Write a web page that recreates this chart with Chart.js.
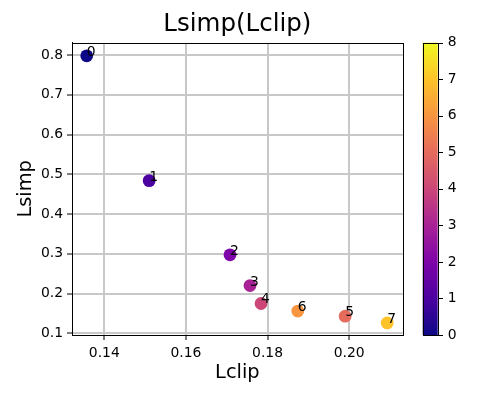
<!DOCTYPE html>
<html lang="en">
<head>
<meta charset="UTF-8">
<title>Lsimp(Lclip)</title>
<style>
body { margin:0; padding:0; background:#fff; }
canvas { display:block; }
</style>
</head>
<body>
<canvas id="chart" width="500" height="400"></canvas>
<script src="https://cdn.jsdelivr.net/npm/chart.js"></script>
<script>
// values, index = point label
const pointLabels = ['0', '1', '2', '3', '4', '5', '6', '7'];
const lclip = [0.1357, 0.1510, 0.1708, 0.1757, 0.1784, 0.1990, 0.1874, 0.2093];
const lsimp = [0.798, 0.484, 0.2975, 0.220, 0.175, 0.143, 0.156, 0.126];
const colorValues = [0, 1, 2, 3, 4, 5, 6, 7];
const xTicks = [0.14, 0.16, 0.18, 0.20];
const yTicks = [0.1, 0.2, 0.3, 0.4, 0.5, 0.6, 0.7, 0.8];
const cbarTicks = [0, 1, 2, 3, 4, 5, 6, 7, 8];

// plasma colormap stops
const plasma = ['#0d0887', '#4c02a1', '#7e03a8', '#a82296', '#cc4778', '#e56b5d', '#f89540', '#fdc328', '#f0f921'];
const cmin = 0, cmax = 8;

function hexToRgb(h) {
  return [parseInt(h.slice(1,3),16), parseInt(h.slice(3,5),16), parseInt(h.slice(5,7),16)];
}
function plasmaColor(v) {
  let t = (v - cmin) / (cmax - cmin);
  t = Math.max(0, Math.min(1, t));
  const pos = t * (plasma.length - 1);
  const i = Math.min(Math.floor(pos), plasma.length - 2);
  const f = pos - i;
  const a = hexToRgb(plasma[i]), b = hexToRgb(plasma[i+1]);
  const c = a.map((x, k) => Math.round(x + (b[k] - x) * f));
  return `rgb(${c[0]},${c[1]},${c[2]})`;
}

Chart.defaults.font.family = "'DejaVu Sans', sans-serif";
Chart.defaults.color = '#000';

const tickFont = { size: 13.9 };

const extras = {
  id: 'extras',
  afterDraw(chart) {
    const ctx = chart.ctx;
    const a = chart.chartArea;
    const xs = chart.scales.x, ys = chart.scales.y, cs = chart.scales.cbar;
    ctx.save();
    // frame
    ctx.strokeStyle = '#000';
    ctx.lineWidth = 1;
    ctx.strokeRect(Math.round(a.left) + 0.5, Math.round(a.top) + 0.5, Math.round(a.right - a.left), Math.round(a.bottom - a.top));
    // point annotations
    ctx.fillStyle = '#000';
    ctx.font = "13.9px 'DejaVu Sans', sans-serif";
    ctx.textAlign = 'left';
    ctx.textBaseline = 'alphabetic';
    pointLabels.forEach((lab, i) => {
      ctx.fillText(lab, xs.getPixelForValue(lclip[i]), ys.getPixelForValue(lsimp[i]));
    });
    // colorbar
    const x0 = a.right + 20, w = 15;
    const top = cs.getPixelForValue(cmax), bot = cs.getPixelForValue(cmin);
    const g = ctx.createLinearGradient(0, bot, 0, top);
    plasma.forEach((c, i) => g.addColorStop(i / (plasma.length - 1), c));
    ctx.fillStyle = g;
    ctx.fillRect(x0, top, w, bot - top);
    ctx.strokeStyle = '#000';
    ctx.lineWidth = 1;
    ctx.strokeRect(Math.round(x0) + 0.5, Math.round(top) + 0.5, w, Math.round(bot - top));
    cbarTicks.forEach(t => {
      const y = Math.round(cs.getPixelForValue(t)) + 0.5;
      ctx.beginPath();
      ctx.moveTo(Math.round(x0) + w, y);
      ctx.lineTo(Math.round(x0) + w + 5, y);
      ctx.stroke();
    });
    ctx.restore();
  }
};

const gridOpts = { color: '#c8c8c8', lineWidth: 2, tickColor: '#000', tickWidth: 1, tickLength: 5 };

new Chart(document.getElementById('chart'), {
  type: 'scatter',
  data: {
    datasets: [{
      data: lclip.map((x, i) => ({ x: x, y: lsimp[i] })),
      pointBackgroundColor: colorValues.map(plasmaColor),
      pointBorderWidth: 0,
      pointRadius: 6.4,
      xAxisID: 'x',
      yAxisID: 'y'
    }]
  },
  options: {
    responsive: false,
    animation: false,
    events: [],
    layout: { padding: 0 },
    plugins: {
      legend: { display: false },
      tooltip: { enabled: false },
      title: {
        display: true,
        fullSize: false,
        text: 'Lsimp(Lclip)',
        color: '#000',
        font: { size: 24.5, weight: 'normal' },
        padding: { top: 10.3, bottom: 3 }
      }
    },
    scales: {
      x: {
        type: 'linear',
        position: 'bottom',
        min: 0.1321,
        max: 0.2131,
        z: 1,
        afterBuildTicks: s => { s.ticks = xTicks.map(v => ({ value: v })); },
        afterFit: s => { s.height = 65; },
        ticks: { font: tickFont, padding: 5, callback: v => v.toFixed(2) },
        grid: gridOpts,
        border: { display: true, color: '#000', width: 1 },
        title: { display: true, text: 'Lclip', font: { size: 19.4 }, padding: { top: 0, bottom: 15.3 } }
      },
      y: {
        type: 'linear',
        position: 'left',
        min: 0.0957,
        max: 0.831,
        z: 1,
        afterBuildTicks: s => { s.ticks = yTicks.map(v => ({ value: v })); },
        afterFit: s => { s.width = 72; },
        ticks: { font: tickFont, padding: 4, callback: v => v.toFixed(1) },
        grid: gridOpts,
        border: { display: true, color: '#000', width: 1 },
        title: { display: true, text: 'Lsimp', font: { size: 19.4 }, padding: { top: 14.3, bottom: 0 } }
      },
      cbar: {
        type: 'linear',
        position: 'right',
        min: cmin,
        max: cmax,
        afterBuildTicks: s => { s.ticks = cbarTicks.map(v => ({ value: v })); },
        afterFit: s => { s.width = 97.3; },
        // long invisible tick marks push the labels past the colour bar
        ticks: { font: tickFont, padding: 3 },
        grid: { drawOnChartArea: false, drawTicks: true, tickLength: 42, tickColor: 'rgba(0,0,0,0)' },
        border: { display: false }
      }
    }
  },
  plugins: [extras]
});
</script>
</body>
</html>
